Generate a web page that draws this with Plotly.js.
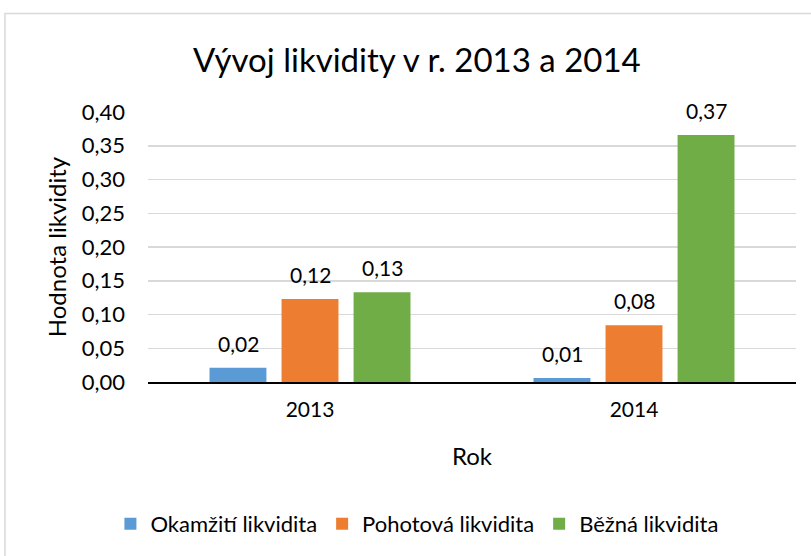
<!DOCTYPE html>
<html><head><meta charset="utf-8">
<script src="https://cdn.plot.ly/plotly-3.0.1.min.js"></script>
<style>html,body{margin:0;padding:0;background:#fff;}#c{width:811px;height:556px;}</style>
</head><body><div id="c"></div>
<script>
const categories = ['2013', '2014'];
const seriesNames = ['Okamžití likvidita', 'Pohotová likvidita', 'Běžná likvidita'];
const okamzita = [0.021, 0.006];
const pohotova = [0.123, 0.084];
const bezna = [0.133, 0.366];
const colors = ['#5B9BD5', '#ED7D31', '#70AD47'];
const FONT = 'Lato, "Liberation Sans", sans-serif';

const allSeries = [okamzita, pohotova, bezna];
const traces = allSeries.map((vals, i) => ({
  type: 'bar', name: seriesNames[i], x: categories, y: vals,
  marker: {color: colors[i]}, hoverinfo: 'skip'
}));

const groupShift = 72;
const annotations = [];
allSeries.forEach((vals, i) => {
  vals.forEach((v, j) => {
    annotations.push({
      x: j, y: v, xref: 'x', yref: 'y',
      text: v.toFixed(2).replace('.', ','), showarrow: false,
      xshift: (i - 1) * groupShift, yshift: 10, yanchor: 'bottom',
      font: {family: FONT, size: 21, color: '#000'}
    });
  });
});

const layout = {
  width: 811, height: 556,
  margin: {l: 148, r: 15, t: 112, b: 173},
  paper_bgcolor: '#fff', plot_bgcolor: '#fff',
  separators: ', ',
  font: {family: FONT, color: '#000'},
  title: {text: 'Vývoj likvidity v r. 2013 a 2014', font: {family: FONT, size: 33, color: '#000'},
          x: 0.514, xanchor: 'center', xref: 'container', y: 0.892, yanchor: 'middle'},
  barmode: 'group', bargap: 0.333, bargroupgap: 0.21,
  showlegend: true,
  legend: {orientation: 'h', x: 0.415, xanchor: 'center', y: -0.52, yanchor: 'middle',
           font: {family: FONT, size: 22, color: '#000'}, traceorder: 'normal'},
  xaxis: {type: 'category', range: [-0.5, 1.5], showline: true, linecolor: '#000', linewidth: 2,
          showgrid: false, ticks: '', tickfont: {family: FONT, size: 21, color: '#000'},
          ticklabelstandoff: 8,
          title: {text: 'Rok', font: {family: FONT, size: 24, color: '#000'}, standoff: 28}},
  yaxis: {range: [0, 0.4], dtick: 0.05, tickformat: '.2f', showgrid: true,
          gridcolor: '#d9d9d9', gridwidth: 1.5, zeroline: false, showline: false, ticks: '',
          tickfont: {family: FONT, size: 22, color: '#000'}, ticklabelstandoff: 22,
          title: {text: 'Hodnota likvidity', font: {family: FONT, size: 24, color: '#000'}, standoff: 8}},
  annotations: annotations,
  shapes: [{type: 'rect', xref: 'paper', yref: 'paper', x0: -0.2207, x1: 1.06, y0: -0.75, y1: 1.365,
            line: {color: '#d9d9d9', width: 1.5}, fillcolor: 'rgba(0,0,0,0)', layer: 'below'}]
};

Plotly.newPlot('c', traces, layout, {staticPlot: true});
</script></body></html>
